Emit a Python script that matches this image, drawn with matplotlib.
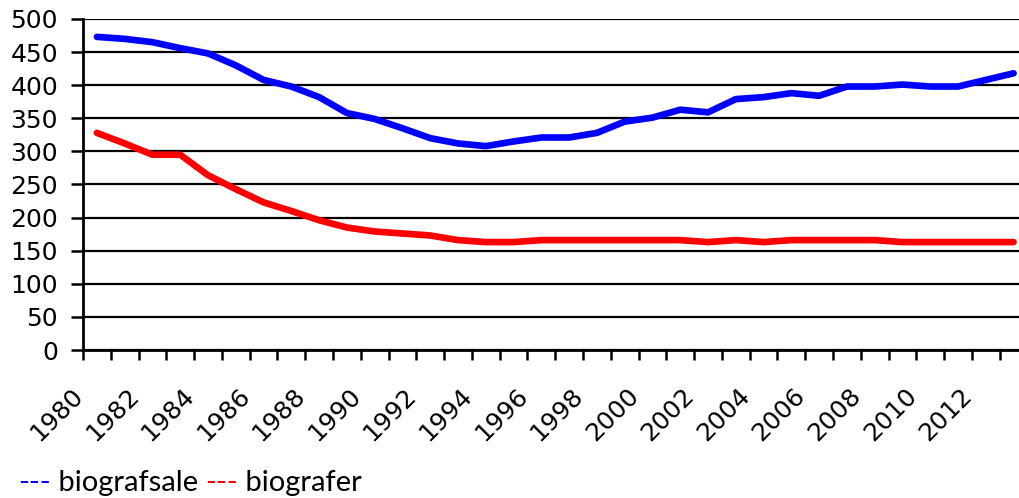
import numpy as np
import matplotlib
matplotlib.use("Agg")
import matplotlib.pyplot as plt
import matplotlib.transforms as mtransforms
from matplotlib.offsetbox import TextArea, HPacker, AnchoredOffsetbox

# Data
years = list(range(1980, 2014))
biografsale = [473, 470, 465, 456, 448, 430, 408, 398, 382, 358,
               349, 335, 320, 312, 308, 315, 321, 321, 328, 345,
               351, 363, 359, 379, 382, 388, 384, 398, 398, 401,
               398, 398, 408, 418]
biografer = [328, 312, 295, 295, 264, 243, 223, 210, 196, 185,
             179, 176, 173, 166, 163, 163, 166, 166, 166, 166,
             166, 166, 163, 166, 163, 166, 166, 166, 166, 163,
             163, 163, 163, 163]
yticks = list(range(0, 501, 50))

fig = plt.figure(figsize=(10.19, 4.98), dpi=100)
# plot area runs past the right edge of the picture, as in the reference
ax = fig.add_axes([83/1019, 148/498, 944.5/1019, 331/498])

x = np.arange(len(years))
ax.plot(x, biografsale, color="#0000FF", lw=4.8, solid_capstyle="round", zorder=3)
ax.plot(x, biografer, color="#FF0000", lw=4.8, solid_capstyle="round", zorder=3)

ax.set_xlim(-0.5, len(years) - 0.5)
ax.set_ylim(0, 500)
ax.set_yticks(yticks)
ax.set_yticklabels([str(v) for v in yticks], fontsize=18, family="DejaVu Sans")
ax.tick_params(axis="y", length=9, width=1.8, pad=9, color="black")

# tick marks between categories, labels on every second category
ax.set_xticks(np.arange(-0.5, len(years), 1.0))
ax.set_xticklabels([])
ax.tick_params(axis="x", which="major", length=7, width=1.8, color="black")
ax.set_xticks(x[::2], minor=True)
ax.set_xticklabels([str(y) for y in years[::2]], minor=True, rotation=45,
                   ha="right", va="top", fontsize=18, family="DejaVu Sans")
ax.tick_params(axis="x", which="minor", length=0, pad=24)
shift = mtransforms.ScaledTranslation(-9/100, 0, fig.dpi_scale_trans)
for lab in ax.get_xticklabels(minor=True):
    lab.set_transform(lab.get_transform() + shift)

ax.yaxis.grid(True, color="black", lw=1.6, zorder=1)
ax.set_axisbelow(True)
for s in ["top", "right"]:
    ax.spines[s].set_visible(False)
ax.spines["left"].set_linewidth(2)
ax.spines["bottom"].set_linewidth(2)

# legend written as text, like the original
lfont = dict(fontsize=21, family="Lato")
parts = [TextArea("---", textprops=dict(color="#0000FF", **lfont)),
         TextArea(" biografsale ", textprops=dict(color="black", **lfont)),
         TextArea("---", textprops=dict(color="#FF0000", **lfont)),
         TextArea(" biografer", textprops=dict(color="black", **lfont))]
box = HPacker(children=parts, align="baseline", pad=0, sep=0)
anch = AnchoredOffsetbox(loc="lower left", child=box, pad=0, frameon=False,
                         bbox_to_anchor=(18/1019, 2/498),
                         bbox_transform=fig.transFigure, borderpad=0)
fig.add_artist(anch)

fig.savefig("out.png", dpi=100)
